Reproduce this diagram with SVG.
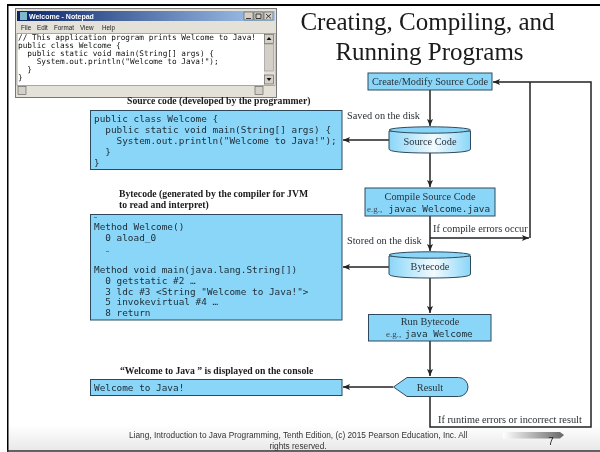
<svg xmlns="http://www.w3.org/2000/svg" width="600" height="452" viewBox="0 0 600 452">
<style>
.box{fill:#8AD6F8;stroke:#2E4A5C;stroke-width:1}
.cyl{fill:url(#cylGrad);stroke:#2E4A5C;stroke-width:1}
.top{fill:#8AD6F8;stroke:#2E4A5C;stroke-width:1}
.mono{font-family:"DejaVu Sans Mono",monospace;font-size:9.4px;fill:#1c2a33;white-space:pre}
.np{font-family:"DejaVu Sans Mono",monospace;font-size:7.75px;fill:#111;white-space:pre}
.ser{font-family:"Liberation Serif",serif;font-size:10.3px;fill:#2a3138}
.eg{font-family:"Liberation Serif",serif;font-size:9px;fill:#3a4a55}
.cap{font-family:"Liberation Serif",serif;font-size:9.7px;font-weight:bold;fill:#1a1a1a}
.ttl{font-family:"Liberation Serif",serif;font-size:25px;fill:#1a1a1a;text-anchor:middle}
.foot{font-family:"Liberation Sans",sans-serif;font-size:8.3px;fill:#333}
.menu{font-family:"Liberation Sans",sans-serif;font-size:6.3px;fill:#222}
.mid{text-anchor:middle}
.line{fill:none;stroke:#222;stroke-width:1.5}
.arr{marker-end:url(#head)}
.btn{fill:#d4d0c8;stroke:#555;stroke-width:.6}
.ell{font-size:5px}
</style>
<defs>
<marker id="head" markerUnits="userSpaceOnUse" markerWidth="8" markerHeight="6" refX="7" refY="3" orient="auto"><path d="M0 0L7 3L0 6L1.5 3Z" fill="#222"/></marker>
<linearGradient id="cylGrad" x1="0" x2="1" y1="0" y2="0"><stop offset="0" stop-color="#8AD6F8"/><stop offset=".55" stop-color="#f2fbff"/><stop offset="1" stop-color="#8AD6F8"/></linearGradient>
<linearGradient id="bg" x1="0" x2="0" y1="0" y2="1"><stop offset="0" stop-color="#fff"/><stop offset="1" stop-color="#e8e8e8"/></linearGradient>
<linearGradient id="tb" x1="0" x2="1" y1="0" y2="0"><stop offset="0" stop-color="#0A246A"/><stop offset="1" stop-color="#A6CAF0"/></linearGradient>
<linearGradient id="pg" x1="0" x2="1" y1="0" y2="0"><stop offset="0" stop-color="#fff"/><stop offset="1" stop-color="#666"/></linearGradient>
<filter id="soft" x="0" y="0" width="100%" height="100%"><feGaussianBlur stdDeviation="0.3"/></filter>
</defs>
<rect width="600" height="452" fill="#fff"/>
<g filter="url(#soft)">
<rect x="8" y="425" width="592" height="26" fill="url(#bg)"/>
<g id="frame"><path d="M7 452V4.500H600" fill="none" stroke="#000" stroke-width="3"/><path d="M7 451H600" fill="none" stroke="#333" stroke-width="1.500"/></g>

<g id="notepad">
<rect x="15.500" y="8.500" width="261" height="89" fill="#e4e1d8" stroke="#777"/>
<rect x="17" y="11" width="258" height="10" fill="url(#tb)"/>
<rect x="20" y="12" width="7" height="8" fill="#7fb8c8"/>
<text x="29" y="18.500" font-family="Liberation Sans, sans-serif" font-size="7" font-weight="bold" fill="#fff">Welcome - Notepad</text>
<rect class="btn" x="244" y="12" width="9" height="8"/><rect class="btn" x="254" y="12" width="9" height="8"/><rect class="btn" x="264" y="12" width="9" height="8"/>
<path d="M246 18.500h5M256 14h5v4.500h-5zM266 14l5 4.500M271 14l-5 4.500" fill="none" stroke="#111" stroke-width=".8"/>
<text class="menu" x="21" y="29.500">File</text><text class="menu" x="37" y="29.500">Edit</text><text class="menu" x="54" y="29.500">Format</text><text class="menu" x="80" y="29.500">View</text><text class="menu" x="102" y="29.500">Help</text>
<rect x="17" y="33.500" width="258" height="52" fill="#fff" stroke="#777" stroke-width=".6"/>
<rect x="264" y="34" width="10.500" height="51" fill="#e4e1d8"/>
<rect class="btn" x="264.500" y="34.500" width="9" height="9"/><rect class="btn" x="264.500" y="75" width="9" height="9"/>
<path d="M269 37l-2.500 3h5zM269 81l-2.500-3h5z" fill="#111"/>
<rect x="264.500" y="44" width="9" height="27" fill="#d4d0c8" stroke="#888" stroke-width=".5"/>
<rect x="17" y="86" width="258" height="9" fill="#e4e1d8"/>
<rect class="btn" x="18" y="86.500" width="8" height="8"/><rect class="btn" x="255" y="86.500" width="8" height="8"/>
<text class="np" x="18" y="40">// This application program prints Welcome to Java!</text>
<text class="np" x="18" y="48">public class Welcome {</text>
<text class="np" x="18" y="56">  public static void main(String[] args) {</text>
<text class="np" x="18" y="64">    System.out.println("Welcome to Java!");</text>
<text class="np" x="18" y="72">  }</text>
<text class="np" x="18" y="80">}</text>
</g>

<g id="title"><text class="ttl" x="427.500" y="30">Creating, Compiling, and</text><text class="ttl" x="429.500" y="60">Running Programs</text></g>

<g id="connectors">
<path class="line arr" d="M430 90V126"/>
<path class="line arr" d="M430 152V187"/>
<path class="line arr" d="M430 216V251"/>
<path class="line arr" d="M430 277V313"/>
<path class="line arr" d="M430 341V376"/>
<path class="line arr" d="M430 238H529"/>
<path class="line" d="M530 238V82"/>
<path class="line arr" d="M430 397V427H591V82H493"/>
<path class="line arr" d="M389 140H343"/>
<path class="line arr" d="M389 267H343"/>
<path class="line arr" d="M393 387H343"/>
</g>

<g id="create-source"><rect class="box" x="368" y="73" width="124" height="17"/><text class="ser mid" x="430" y="84.500">Create/Modify Source Code</text></g>
<g id="source-cylinder"><path class="cyl" d="M389 131V149Q389 153 430 153T470.500 149V131Z"/><ellipse class="top" cx="429.700" cy="130" rx="40.700" ry="3.200"/><text class="ser mid" x="430" y="144.500">Source Code</text></g>
<g id="compile"><rect class="box" x="365" y="188" width="130" height="28"/><text class="ser mid" x="430" y="200">Compile Source Code</text><text class="eg" x="367" y="211.500">e.g.,</text><text class="mono" x="388.500" y="211.500">javac Welcome.java</text></g>
<g id="bytecode-cylinder"><path class="cyl" d="M389 256V274Q389 278 430 278T470.500 274V256Z"/><ellipse class="top" cx="429.700" cy="255" rx="40.700" ry="3.200"/><text class="ser mid" x="430" y="270">Bytecode</text></g>
<g id="run"><rect class="box" x="368.500" y="314.500" width="122.500" height="26.500"/><text class="ser mid" x="430" y="325">Run Bytecode</text><text class="eg" x="386" y="337">e.g.,</text><text class="mono" x="405" y="337">java Welcome</text></g>
<g id="result"><path class="box" d="M393.500 387L407 377.500H458.500A9.500 9.500 0 0 1 458.500 396.500H407Z"/><text class="ser mid" x="430" y="390.500">Result</text></g>

<g id="source-box"><text class="cap" x="127" y="104">Source code (developed by the programmer)</text><rect class="box" x="90.500" y="110.500" width="251.500" height="59"/>
<text class="mono" x="94" y="122">public class Welcome {</text><text class="mono" x="94" y="133">  public static void main(String[] args) {</text><text class="mono" x="94" y="144">    System.out.println("Welcome to Java!");</text><text class="mono" x="94" y="155">  }</text><text class="mono" x="94" y="166">}</text></g>
<g id="bytecode-box"><text class="cap" x="119" y="197">Bytecode (generated by the compiler for JVM</text><text class="cap" x="119" y="208">to read and interpret)</text><rect class="box" x="90.500" y="214.500" width="251.500" height="105.500"/>
<text class="mono ell" x="94" y="218">…</text>
<text class="mono" x="94" y="230">Method Welcome()</text><text class="mono" x="94" y="241">  0 aload_0</text><text class="mono ell" x="106" y="252">…</text>
<text class="mono" x="94" y="273">Method void main(java.lang.String[])</text><text class="mono" x="94" y="284">  0 getstatic #2 …</text><text class="mono" x="94" y="295">  3 ldc #3 &lt;String "Welcome to Java!"&gt;</text><text class="mono" x="94" y="305">  5 invokevirtual #4 …</text><text class="mono" x="94" y="315.500">  8 return</text></g>
<g id="console-box"><text class="cap" x="120" y="373.500">“Welcome to Java ” is displayed on the console</text><rect class="box" x="90.500" y="379.500" width="251.500" height="16"/><text class="mono" x="94" y="391">Welcome to Java!</text></g>

<g id="labels">
<text class="ser" x="347" y="119">Saved on the disk</text>
<text class="ser" x="347" y="244">Stored on the disk</text>
<text class="ser" x="433" y="232">If compile errors occur</text>
<text class="ser" x="438" y="423">If runtime errors or incorrect result</text>
</g>
<g id="footer">
<text class="foot" x="129" y="438">Liang, Introduction to Java Programming, Tenth Edition, (c) 2015 Pearson Education, Inc. All</text>
<text class="foot mid" x="298" y="449">rights reserved.</text>
<path d="M503 432H560L564 435L560 438.500H503Z" fill="url(#pg)"/>
<text x="551" y="444.500" font-family="Liberation Sans, sans-serif" font-size="10" fill="#222" text-anchor="middle">7</text>
</g>
</g>
</svg>
